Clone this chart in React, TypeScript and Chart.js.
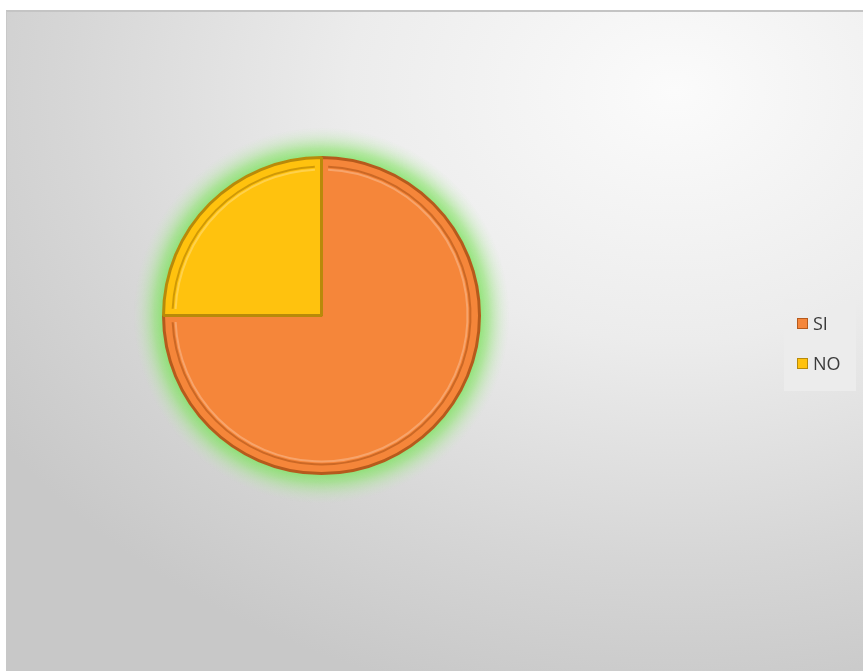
import React, { useEffect, useRef } from "react";
import { Chart, registerables } from "chart.js";

Chart.register(...registerables);

const categories = ["SI", "NO"];
const values = [75, 25];
const fillColors = ["#F5863A", "#FFC20E"];
const edgeColors = ["#B65A1C", "#B88A0A"];

const glowPlugin = {
  id: "glow",
  beforeDatasetsDraw(chart: any) {
    const meta = chart.getDatasetMeta(0);
    const arc = meta.data[0];
    if (!arc) return;
    const { x, y, outerRadius } = arc.getProps(["x", "y", "outerRadius"], true);
    const ctx = chart.ctx;
    const r0 = outerRadius - 2;
    const r1 = outerRadius + 30;
    const g = ctx.createRadialGradient(x, y, r0, x, y, r1);
    g.addColorStop(0, "rgba(120,225,90,0.85)");
    g.addColorStop(0.35, "rgba(140,228,110,0.6)");
    g.addColorStop(0.7, "rgba(170,232,150,0.25)");
    g.addColorStop(1, "rgba(200,240,190,0)");
    ctx.save();
    ctx.beginPath();
    ctx.arc(x, y, r1, 0, Math.PI * 2);
    ctx.fillStyle = g;
    ctx.fill();
    ctx.restore();
  },
  afterDatasetsDraw(chart: any) {
    const meta = chart.getDatasetMeta(0);
    const ctx = chart.ctx;
    meta.data.forEach((arc: any, i: number) => {
      const { x, y, outerRadius, startAngle, endAngle } = arc.getProps(
        ["x", "y", "outerRadius", "startAngle", "endAngle"],
        true
      );
      const inset = 9;
      const a0 = startAngle + 0.045;
      const a1 = endAngle - 0.045;
      ctx.save();
      ctx.beginPath();
      ctx.arc(x, y, outerRadius - inset, a0, a1);
      ctx.strokeStyle = i === 0 ? "rgba(170,80,20,0.55)" : "rgba(170,120,0,0.55)";
      ctx.lineWidth = 2;
      ctx.stroke();
      ctx.beginPath();
      ctx.arc(x, y, outerRadius - inset - 3, a0, a1);
      ctx.strokeStyle = "rgba(255,255,255,0.25)";
      ctx.lineWidth = 2;
      ctx.stroke();
      ctx.restore();
    });
  },
};

export default function App() {
  const ref = useRef<HTMLCanvasElement | null>(null);
  useEffect(() => {
    if (!ref.current) return;
    const chart = new Chart(ref.current, {
      type: "pie",
      data: {
        labels: categories,
        datasets: [
          {
            data: values,
            backgroundColor: fillColors,
            borderColor: edgeColors,
            borderWidth: 3,
          },
        ],
      },
      options: {
        animation: false,
        responsive: false,
        layout: { padding: { top: 146, bottom: 196, left: 156, right: 382 } },
        plugins: { legend: { display: false }, tooltip: { enabled: false } },
      },
      plugins: [glowPlugin],
    });
    return () => chart.destroy();
  }, []);

  return (
    <div
      style={{
        position: "absolute",
        left: 6,
        top: 10,
        width: 857,
        height: 661,
        boxSizing: "border-box",
        borderTop: "2px solid #c4c4c4",
        borderLeft: "1px solid #c8c8c8",
        background:
          "radial-gradient(ellipse 95% 95% at 78% 12%, #fbfbfb 0%, #ececec 40%, #d6d6d6 75%, #c8c8c8 100%)",
        fontFamily: "'Open Sans', 'Liberation Sans', sans-serif",
      }}
    >
      <canvas ref={ref} width={857} height={661} style={{ position: "absolute", left: -1, top: -2 }} />
      <div
        style={{
          position: "absolute",
          left: 777,
          top: 287,
          width: 72,
          height: 92,
          background: "rgba(236,236,236,0.9)",
        }}
      >
        {categories.map((c, i) => (
          <div
            key={c}
            style={{
              position: "absolute",
              left: 13,
              top: 12 + i * 40,
              display: "flex",
              alignItems: "center",
              fontSize: 18,
              color: "#3a3a3a",
              lineHeight: "24px",
            }}
          >
            <span
              style={{
                display: "inline-block",
                width: 9,
                height: 9,
                marginRight: 5,
                background: fillColors[i],
                border: "1px solid " + edgeColors[i],
              }}
            />
            {c}
          </div>
        ))}
      </div>
    </div>
  );
}
